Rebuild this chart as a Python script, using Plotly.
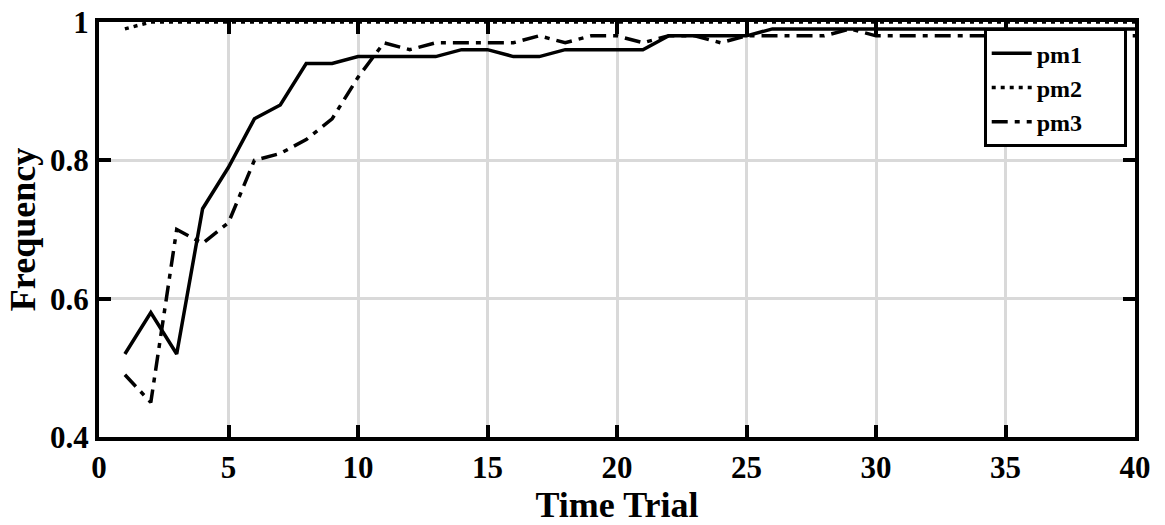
import plotly.graph_objects as go

trials = list(range(1, 41))
pm1 = [0.52, 0.58, 0.52, 0.73, 0.79, 0.86, 0.88, 0.94, 0.94, 0.95,
       0.95, 0.95, 0.95, 0.96, 0.96, 0.95, 0.95, 0.96, 0.96, 0.96,
       0.96, 0.98, 0.98, 0.98, 0.98, 0.99, 0.99, 0.99, 0.99, 0.99,
       0.99, 0.99, 0.99, 0.99, 0.99, 0.99, 0.99, 0.99, 0.99, 0.99]
pm2 = [0.99] + [1.0] * 39
pm3 = [0.49, 0.45, 0.70, 0.68, 0.71, 0.80, 0.81, 0.83, 0.86, 0.92,
       0.97, 0.96, 0.97, 0.97, 0.97, 0.97, 0.98, 0.97, 0.98, 0.98,
       0.97, 0.98, 0.98, 0.97, 0.98, 0.98, 0.98, 0.98, 0.99, 0.98,
       0.98, 0.98, 0.98, 0.98, 0.98, 0.98, 0.98, 0.98, 0.98, 0.98]
series_names = ["pm1", "pm2", "pm3"]
x_ticks = [0, 5, 10, 15, 20, 25, 30, 35, 40]
y_ticks = [0.4, 0.6, 0.8, 1.0]
y_tick_labels = ["0.4", "0.6", "0.8", "1"]

FONT = "Liberation Serif"
dashes = ["solid", "4px,5px", "16px,7px,5px,7px"]
PAD = "\u00a0" * 6
fig = go.Figure()
for name, ys, dash in zip(series_names, [pm1, pm2, pm3], dashes):
    fig.add_trace(go.Scatter(x=trials, y=ys, mode="lines", name="<b>" + name + "</b>" + PAD,
                             line=dict(color="black", width=3.5, dash=dash)))

axis_common = dict(showline=True, linecolor="black", linewidth=4, mirror="ticks",
                   ticks="inside", ticklen=12, tickwidth=4, tickcolor="black",
                   showgrid=True, gridcolor="#d9d9d9", gridwidth=3, zeroline=False,
                   automargin=False, ticklabeloverflow="allow",
                   tickfont=dict(family=FONT, size=31, color="black"))
fig.update_xaxes(range=[0, 40], tickvals=x_ticks, ticktext=["<b>%d</b>" % v for v in x_ticks],
                 title=dict(text="<b>Time Trial</b>", font=dict(family=FONT, size=36, color="black"), standoff=2),
                 **axis_common)
fig.update_yaxes(range=[0.4, 1.0], tickvals=y_ticks, ticktext=["<b>%s</b>" % t for t in y_tick_labels],
                 title=dict(text="<b>Frequency</b>", font=dict(family=FONT, size=36, color="black"), standoff=4),
                 **axis_common)
fig.update_layout(
    width=1165, height=525, plot_bgcolor="white", paper_bgcolor="white",
    margin=dict(l=99, r=30, t=22, b=88),
    legend=dict(x=0.992, y=0.985, xanchor="right", yanchor="top", bgcolor="white",
                bordercolor="black", borderwidth=3,
                font=dict(family=FONT, size=24, color="black"), tracegroupgap=0, itemwidth=40),
    showlegend=True,
)
fig.write_html("out.html")
